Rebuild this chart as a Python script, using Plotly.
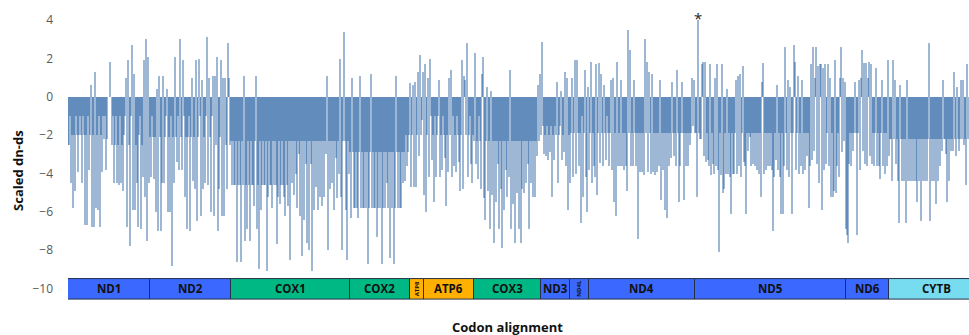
import plotly.graph_objects as go

# ---------------- data ----------------
genes = ["ND1", "ND2", "COX1", "COX2", "ATP8", "ATP6", "COX3",
         "ND3", "ND4L", "ND4", "ND5", "ND6", "CYTB"]
gene_codons = [328, 324, 476, 240, 56, 200, 268, 116, 76, 424, 604, 172, 380]
window = 4  # codons per bar

y_ticks = [-10, -8, -6, -4, -2, 0, 2, 4]

nd1 = [-2.5, -2.5, -1.0, -4.5, -2.0, -5.8, -2.0, -4.9, -1.0, -2.0,
       -3.9, -2.0, -1.0, -2.0, -4.5, -1.0, -2.0, -6.7, -2.0, -6.7,
       -1.0, -3.8, -2.0, 0.6, -6.8, -2.0, -6.8, 1.3, -5.8, -2.0,
       -5.9, -1.0, -6.8, -2.0, -3.9, -1.0, -2.2, -1.0, -3.8, -2.2,
       0, 0, 1.8, 0, -2.5, -1.0, -4.5, -2.5, -1.0, -4.5,
       -2.5, -4.6, -1.0, -4.5, -2.5, -4.9, -2.0, -1.0, 1.0, -6.8,
       1.9, -2.5, -7.8, -1.0, 2.7, -5.9, 1.2, -5.9, -2.5, -4.5,
       -6.8, -2.0, -1.0, -6.9, -2.5, -4.2, 1.9, -5.2, 3.0, -7.5,
       2.1, -4.5]
nd2 = [-2.1, -4.2, -1.0, -2.1, -4.3, -2.1, -6.0, 0.4, -7.0, 1.1,
       -2.1, -7.0, -4.5, 1.1, -4.5, -2.1, -1.0, 0.4, -6.0, -2.1,
       -6.0, -1.0, -8.8, -2.1, -4.5, 2.1, -2.1, -3.4, -1.0, -3.8,
       3.0, -2.1, -3.8, 1.9, -1.0, -5.2, -2.1, -6.9, -2.1, -1.0,
       -7.0, -2.1, 1.0, -4.4, -2.1, -4.8, 1.9, -6.5, -2.1, 2.0,
       -1.0, -6.2, 0.9, -4.8, -2.1, -4.5, -1.0, 3.1, -4.6, 1.0,
       -2.1, -6.0, -1.0, 1.1, -6.2, 1.1, -2.5, 2.1, -7.0, -4.8,
       -2.1, 1.9, -6.2, 1.0, -6.2, 1.0, -2.5, -4.8, 2.8, 1.0,
       -2.5]
cox1 = [-2.3, -4.6, -2.3, -4.6, -4.6, -2.3, -8.6, -4.6, -2.3, -4.6,
        -8.6, -2.3, -4.6, 1.1, -7.5, -4.6, -6.9, -2.3, -4.6, -7.5,
        -2.3, -4.6, -4.6, -5.7, -2.3, 1.1, -6.9, -4.6, -9.0, -2.3,
        -5.9, -4.6, -2.3, -4.6, -4.6, -2.3, -9.1, -5.2, -2.3, -4.6,
        -4.6, -5.8, -2.3, -4.6, -2.3, -4.6, -7.7, -5.2, -2.3, -5.6,
        -4.6, -2.3, -4.6, -5.2, -6.2, -2.3, -4.6, -5.7, -2.3, -8.5,
        -2.3, -4.5, -2.3, -5.1, -2.3, -4.0, -5.8, -2.3, -3.0, -6.2,
        -2.3, -8.3, -2.3, -6.4, -2.3, -3.5, -7.6, -2.3, -8.0, -2.3,
        -3.5, -9.1, -2.3, -5.9, -2.3, -4.7, -2.3, -5.9, -2.3, -5.2,
        -2.3, -5.7, -2.3, -5.2, -2.3, -3.0, 1.1, -8.0, -2.3, -4.8,
        -2.3, -4.5, -2.3, -5.9, -2.3, -3.2, -5.3, -2.3, -4.0, 2.0,
        -5.2, -8.0, -2.3, 3.4, -2.3, -5.9, -8.5, -2.3, -4.0]
cox2 = [-2.9, -6.3, 1.0, -2.9, -5.8, -5.8, -2.9, -5.8, -6.3, -2.9,
        1.1, -5.8, -2.9, -5.8, -5.8, -2.9, -5.8, -2.9, -8.7, -5.8,
        -2.9, 1.2, -5.8, -2.9, -5.8, -5.8, -2.9, -7.3, -5.8, -2.9,
        -5.8, -2.9, -8.7, -5.8, -2.9, -5.8, -2.9, -4.5, -5.8, -2.9,
        -8.4, -2.9, -5.8, -2.9, -8.7, -5.8, 1.1, -2.9, -5.8, -2.9,
        -5.8, -5.8, -2.9, -4.5, -2.9, -4.4, -2.0, -3.6, -2.9, -2.0]
atp8 = [0.7, -4.7, -2.0, 0.6, -4.7, 0.8, -4.7, -2.0, 1.3, -3.1, 2.2, -2.0, -1.2, 1.3]
atp6 = [-5.1, 1.7, -6.0, -2.0, 1.0, -4.2, 2.0, -1.0, -3.3, -2.0,
        -5.5, -1.0, -4.2, -2.0, -1.0, 0.9, -4.2, -2.0, -3.8, -1.0,
        -2.0, -3.2, -5.7, -2.0, -3.9, 1.0, -2.0, 1.4, -4.2, -1.0,
        -3.6, -2.0, -3.9, -1.0, -2.0, -3.4, -4.9, -2.0, 1.9, -4.8,
        1.1, 0.9, -2.0, 2.8, -4.2, -2.0, -1.0, -3.5, -4.5, -2.0]
cox3 = [-2.3, 2.3, -3.5, -2.3, -4.3, -1.0, -2.3, -4.8, 1.2, 2.1,
        -5.3, -6.4, -2.3, 0.5, -4.9, -2.3, -6.9, 0.3, -5.1, -2.3,
        -7.6, -2.3, -5.5, -2.3, -3.5, -6.9, -2.3, -4.8, -7.9, -2.3,
        -5.9, -2.3, -3.8, -5.2, -2.3, -4.2, 1.4, -6.9, -2.3, -5.6,
        -2.3, -7.6, -2.3, -5.0, -2.3, -6.9, -2.3, -7.6, -4.8, -2.3,
        -5.0, -2.3, -4.5, -2.3, -3.5, -6.9, -2.3, -4.5, -2.3, -5.2,
        -2.3, -5.2, -2.3, -3.1, 0.6, -2.3, 1.2]
nd3 = [-2.0, 2.85, -1.5, -3.0, -2.0, -3.1, -1.5, -3.3, -2.0, -2.9,
       -1.5, -5.2, -2.0, -3.3, -1.5, -2.0, 0.8, -4.5, -2.0, -1.5,
       0.3, -3.3, -2.0, -2.9, 1.3, -3.6, 1.0, -5.9, -2.0]
nd4l = [-4.5, -1.9, 1.0, -4.2, -1.9, 1.9, -4.0, 1.9, -1.9, -3.6,
        -1.9, -6.6, -1.0, -5.2, -1.9, 1.4, -4.2, -6.0, 0.5]
nd4 = [-3.8, -1.9, 1.8, -4.5, -1.9, -3.6, -4.2, 1.7, -5.1, -1.9,
       1.75, -3.45, 1.2, -1.9, -3.6, 0.6, -1.9, -3.3, -1.0, -1.9,
       -3.6, -1.9, 0.9, -3.8, 1.0, -5.5, -1.9, -6.2, 1.8, -3.6,
       -1.9, -3.6, 0.9, -3.6, -1.9, -3.8, -1.9, -3.6, -4.9, 3.5,
       -1.9, 2.45, -3.6, -1.9, -3.6, 0.9, -1.9, -3.6, -1.9, -7.4,
       -1.9, -3.9, -1.9, -3.9, -1.9, -4.1, 3.0, -1.9, 1.8, -3.9,
       1.3, -1.9, -4.0, 1.2, -3.9, -1.9, -4.1, -1.9, -3.9, -1.9,
       -3.6, 0.9, -5.4, -1.9, -3.8, -1.9, -5.9, -1.9, -6.3, -1.9,
       -3.6, -1.9, -3.2, 0.8, -1.9, -3.1, -1.9, -3.6, 1.4, -1.9,
       -5.5, -3.6, -1.9, 0.8, -1.9, -5.4, -1.9, -3.6, -1.9, -3.6,
       -1.9, -2.5, -1.9, 1.0, -1.5, 0.9]
nd5 = [-1.9, -1.9, -5.2, 4.0, -1.9, -2.2, -2.2, 1.7, 1.8, -3.1,
       1.8, -3.4, -1.9, -3.3, -3.6, 1.7, -4.1, -1.9, -3.5, -4.0,
       1.0, -3.6, 1.7, -3.8, -8.1, -1.9, -4.1, 1.7, -5.0, -4.8,
       -1.9, -4.0, 0.4, -4.0, -1.9, -4.2, -6.1, -1.9, -4.0, -4.0,
       -1.9, 0.9, -4.0, 1.1, -3.6, 1.2, -4.2, -1.9, 1.6, -3.4,
       -3.6, -6.1, -1.9, -2.8, -1.9, -2.1, -3.6, -1.9, -3.5, -1.9,
       -3.6, -1.9, -3.8, -1.9, -4.0, -1.9, -5.2, 0.8, 1.75, -4.0,
       -1.9, -3.8, -1.9, -3.6, -1.9, -3.6, -1.9, -3.8, -7.0, -4.2,
       -1.9, -3.3, 0.6, -3.8, -1.9, -4.2, -6.1, -1.9, -6.1, -3.6,
       2.6, -1.9, -3.8, 0.9, -4.2, 0.5, -1.9, -6.1, -1.9, 2.7,
       1.8, -3.8, -1.9, 1.1, -4.0, -1.9, -3.6, 0.9, -4.0, -1.9,
       -3.8, -1.9, -3.1, -1.9, -5.8, -3.6, 1.7, -3.3, 2.6, -2.8,
       1.0, 2.6, -3.5, 1.6, -4.5, 1.7, 1.7, -5.9, 1.5, -3.8,
       1.7, -3.5, -1.9, 1.7, -3.6, 1.0, -5.2, -1.9, -5.2, -4.9,
       1.9, -5.0, -3.6, -1.9, -4.2, 1.0, 2.6, -2.9, 1.0, -2.3,
       0.8]
nd6 = [-6.9, -7.2, -7.6, -3.5, -1.9, -3.6, -1.9, -2.8, -1.9, 0.8,
       -1.9, -7.2, -1.9, 0.9, -3.8, 1.0, 2.45, -2.8, 1.75, -3.5,
       1.75, -3.6, 1.0, 1.8, -3.1, 1.7, -3.5, -1.9, -3.6, -1.9,
       1.5, -3.6, -1.9, -3.6, -4.3, -1.9, 0.9, -3.6, -1.9, -4.0,
       -1.9, -3.6, 1.9]
cytb = [-3.1, -2.2, -2.2, -4.4, 1.9, -2.2, 0.9, -3.5, -2.2, -4.4,
        -6.6, 0.6, -2.2, -4.4, -2.2, -4.4, -2.2, -6.6, 0.9, -4.4,
        -2.2, -4.4, -2.2, -4.4, -2.2, -4.4, -2.2, -4.4, -5.5, -2.2,
        -4.4, -2.2, -6.5, -2.2, -4.4, -2.2, -4.4, -2.2, -4.4, -2.2,
        2.8, -6.5, -2.2, -4.4, -2.2, -4.4, -2.2, -5.6, -2.2, -4.4,
        -2.2, -3.6, -2.2, -2.8, 0.9, -2.2, -2.2, -3.0, -5.5, -2.2,
        -4.4, -2.2, -2.8, -2.2, -2.8, 1.3, -2.2, -3.1, 0.5, -2.2,
        -2.8, -2.2, 0.9, -2.2, 0.9, -2.5, -2.2, -4.6, 1.7, -2.2]

values_by_gene = [nd1, nd2, cox1, cox2, atp8, atp6, cox3, nd3, nd4l, nd4, nd5, nd6, cytb]

# ---------------- styles ----------------
family_colors = {"ND": "#3b68ff", "COX": "#00b883", "ATP": "#ffb000", "CYTB": "#78dcf0"}
bar_color = "rgb(10,75,150)"
FONT = "Open Sans"

def family(name):
    for k in ("COX", "ATP", "CYTB", "ND"):
        if name.startswith(k):
            return k

xs, ys, starts = [], [], []
pos = 0
for name, length, vals in zip(genes, gene_codons, values_by_gene):
    starts.append(pos)
    for i, v in enumerate(vals):
        xs.append(pos + window * i + window / 2)
        ys.append(v)
    pos += length

fig = go.Figure()
fig.add_trace(go.Bar(
    x=xs, y=ys, width=2 * window,
    marker=dict(color=bar_color, opacity=0.4, line=dict(width=0)),
    hoverinfo="x+y", showlegend=False,
))

box_lo, box_hi = -10.55, -9.48
shapes, annotations = [], []
for name, length, s in zip(genes, gene_codons, starts):
    shapes.append(dict(type="rect", xref="x", yref="y", x0=s, x1=s + length,
                       y0=box_lo, y1=box_hi, fillcolor=family_colors[family(name)],
                       line=dict(color="#243049", width=1), layer="above"))
    small = length < 100
    annotations.append(dict(
        x=s + length / 2, y=(box_lo + box_hi) / 2, xref="x", yref="y",
        text=f"<b>{name}</b>", showarrow=False,
        textangle=-90 if small else 0,
        font=dict(family=FONT, size=6 if small else 11.5, color="#111111"),
    ))

# asterisk above the highest bar
imax = max(range(len(ys)), key=lambda k: ys[k])
annotations.append(dict(x=xs[imax], y=ys[imax], xref="x", yref="y", text="*",
                        showarrow=False, yanchor="bottom", yshift=-10,
                        font=dict(family=FONT, size=15, color="#222222")))

# axis titles
annotations.append(dict(x=-0.0555, y=0.437, xref="paper", yref="paper",
                        text="<b>Scaled dn-ds</b>", textangle=-90, showarrow=False,
                        xanchor="center", yanchor="middle",
                        font=dict(family=FONT, size=13, color="#111111")))
annotations.append(dict(x=0.488, y=-0.085, xref="paper", yref="paper",
                        text="<b>Codon alignment</b>", showarrow=False,
                        xanchor="center", yanchor="middle",
                        font=dict(family=FONT, size=13, color="#111111")))

fig.update_layout(
    width=969, height=335,
    margin=dict(l=68, r=0, t=1, b=34, autoexpand=False),
    paper_bgcolor="white", plot_bgcolor="white",
    shapes=shapes, annotations=annotations,
    xaxis=dict(range=[2, 3606], showticklabels=False, showgrid=False,
               zeroline=False, showline=False, ticks="", automargin=False),
    yaxis=dict(range=[-10.65, 5], tickvals=y_ticks, showgrid=False,
               zeroline=False, showline=False, ticks="", automargin=False,
               ticklabelstandoff=14,
               tickfont=dict(family=FONT, size=12, color="#595959")),
    bargap=0,
)

fig.write_html("out.html",
               config={"displayModeBar": False},
               post_script="document.body.style.margin='0';document.body.style.overflow='hidden';")
